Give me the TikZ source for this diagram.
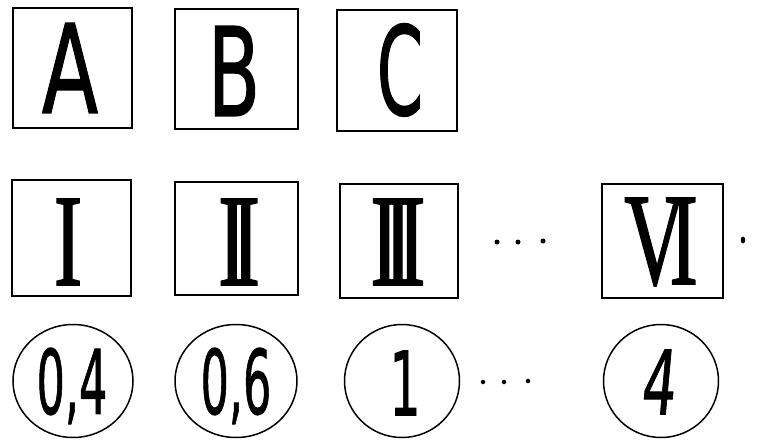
\documentclass[tikz,border=0pt]{standalone}
\usepackage{fontspec}
\usetikzlibrary{shapes.geometric}
\newfontfamily\lettfont[FakeBold=1.2]{DejaVu Sans}
\newfontfamily\romfont[FakeBold=1.5]{Liberation Serif}
\tikzset{
  sqbox/.style={draw, line width=2.3pt, rectangle, inner sep=0pt},
  ringbox/.style={draw, line width=1.5pt, ellipse, inner sep=0pt},
  letter/.style={inner sep=0pt, font=\lettfont\fontsize{123}{123}\selectfont},
  roman/.style={inner sep=0pt, font=\romfont\fontsize{131}{131}\selectfont},
  digits/.style={inner sep=0pt, font=\lettfont\fontsize{89}{89}\selectfont},
  dotmark/.style={circle, fill=black, inner sep=0pt, minimum size=5pt},
}
\begin{document}
\begin{tikzpicture}[x=1pt,y=-1pt]
\useasboundingbox (0,0) rectangle (757,441);
% row 1
\node[sqbox, minimum width=119pt, minimum height=120pt] (bA) at (72.5,68) {};
\node[sqbox, minimum width=123pt, minimum height=120pt] (bB) at (236.5,69) {};
\node[sqbox, minimum width=120pt, minimum height=121pt] (bC) at (397,70.5) {};
\node[letter, xscale=0.67] (tA) at (70,68) {A};
\node[letter, xscale=0.62] (tB) at (234,71) {B};
\node[letter, xscale=0.54] (tC) at (400,70) {C};
% row 2
\node[sqbox, minimum width=119pt, minimum height=116pt] (bI) at (71.5,238) {};
\node[sqbox, minimum width=123pt, minimum height=113pt] (bII) at (236.5,238.5) {};
\node[sqbox, minimum width=118pt, minimum height=114pt] (bIII) at (399,241) {};
\node[sqbox, minimum width=121pt, minimum height=114pt] (bVI) at (662.5,241) {};
\node[roman, xscale=0.65] (tI) at (68,242) {I};
\node[roman, xscale=0.65] (tII) at (239,242) {I\kern-23pt I};
\node[roman, xscale=0.65] (tIII) at (398,242) {I\kern-23pt I\kern-23pt I};
\node[roman, xscale=0.65] (tVI) at (661,242) {V\kern-25pt I};
\node[dotmark] (d1) at (497,242) {};
\node[dotmark] (d2) at (518,242) {};
\node[dotmark] (d3) at (543,241) {};
\node[dotmark, minimum width=4.5pt, minimum height=7pt, ellipse] (d4) at (743,240) {};
% row 3
\node[ringbox, minimum width=120pt, minimum height=113pt] (c1) at (73,381) {};
\node[ringbox, minimum width=122pt, minimum height=113pt] (c2) at (236,381) {};
\node[ringbox, minimum width=115pt, minimum height=113pt] (c3) at (402,381) {};
\node[ringbox, minimum width=115pt, minimum height=113pt] (c4) at (661,381) {};
\node[digits, xscale=0.5] (t1) at (72,386) {0,4};
\node[digits, xscale=0.5] (t2) at (236,386) {0,6};
\node[digits, xscale=0.55] (t3) at (405,383) {1};
\node[digits, xscale=0.6, xslant=0.15] (t4) at (660,382) {4};
\node[dotmark, minimum size=4.5pt] (e1) at (483,382) {};
\node[dotmark, minimum size=4.5pt] (e2) at (504,382) {};
\node[dotmark, minimum size=4.5pt] (e3) at (528,381) {};
\end{tikzpicture}
\end{document}
